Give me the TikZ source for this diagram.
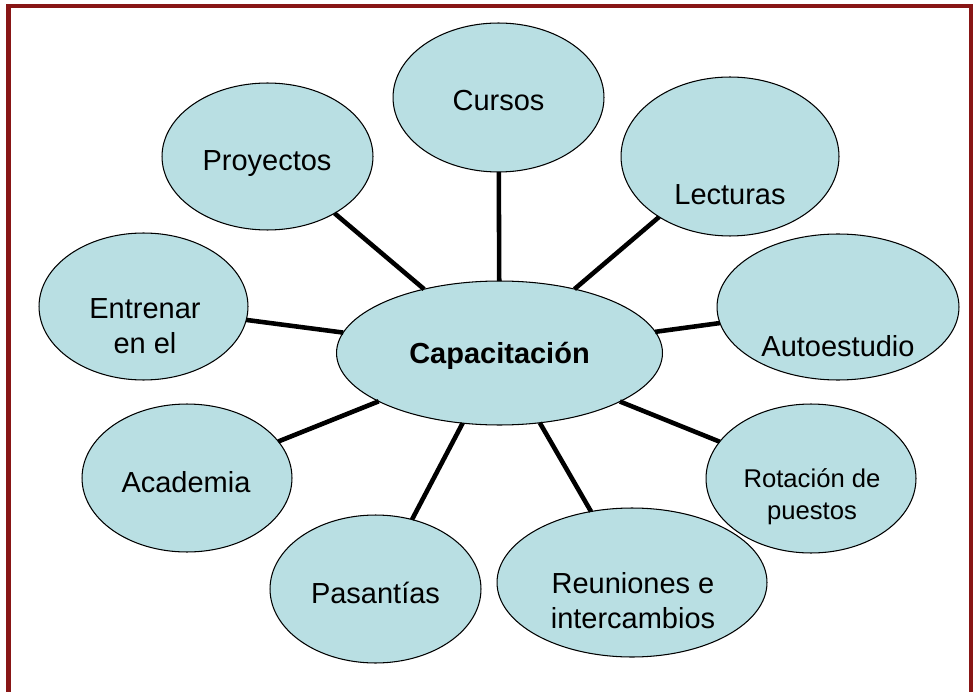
\documentclass[tikz,border=0pt]{standalone}
\usepackage{fontspec}
\setmainfont{Liberation Sans}
\usetikzlibrary{shapes.geometric}
\definecolor{burbuja}{RGB}{185,223,227}
\definecolor{marco}{RGB}{136,22,22}
\tikzset{
  burb/.style={ellipse, draw=black, fill=burbuja, line width=0.6pt, inner sep=0pt, outer sep=0pt},
  rayo/.style={line width=2.6pt},
  txt/.style={anchor=base, align=center, inner sep=0pt, font=\fontsize{16.5}{19.6}\selectfont},
  txtp/.style={txt, font=\fontsize{14.6}{18.2}\selectfont}
}
\begin{document}
\begin{tikzpicture}[x=0.02cm, y=-0.02cm]
\useasboundingbox (0,0) rectangle (976,692);
\fill[white] (0,0) rectangle (976,692);
\draw[marco, line width=2.3pt] (8.5,700)--(8.5,6)--(971,6)--(971,700);
% burbujas
\node[burb, minimum width=6.52cm, minimum height=2.88cm] (cap) at (499.5,353) {};
\node[burb, minimum width=4.22cm, minimum height=2.98cm] (cursos) at (498.5,97.5) {};
\node[burb, minimum width=4.36cm, minimum height=3.18cm] (lecturas) at (730,156.5) {};
\node[burb, minimum width=4.84cm, minimum height=2.92cm] (auto) at (838,307) {};
\node[burb, minimum width=4.20cm, minimum height=2.98cm] (rotacion) at (811,478.5) {};
\node[burb, minimum width=5.40cm, minimum height=2.98cm] (reuniones) at (632,582.5) {};
\node[burb, minimum width=4.22cm, minimum height=2.96cm] (pasantias) at (375.5,589) {};
\node[burb, minimum width=4.20cm, minimum height=2.96cm] (academia) at (187,478) {};
\node[burb, minimum width=4.18cm, minimum height=2.94cm] (entrenar) at (143.5,306.5) {};
\node[burb, minimum width=4.22cm, minimum height=2.94cm] (proyectos) at (267.5,156.5) {};
% rayos
\foreach \b in {cursos,lecturas,auto,rotacion,reuniones,pasantias,academia,entrenar,proyectos}
  \draw[rayo] (cap)--(\b);
% textos (base = ultima linea)
\node[txt, font=\fontsize{16.5}{19.6}\selectfont\bfseries] (t-cap) at (499.5,363) {Capacitación};
\node[txt] (t-cursos) at (498.5,111) {Cursos};
\node[txt] (t-lecturas) at (730,205) {Lecturas};
\node[txt] (t-auto) at (838,356) {Autoestudio};
\node[txtp] (t-rotacion) at (812,519) {Rotación de\\puestos};
\node[txt] (t-reuniones) at (633,628) {Reuniones e\\intercambios};
\node[txt] (t-pasantias) at (375.5,603) {Pasantías};
\node[txt] (t-academia) at (186,492) {Academia};
\node[txt] (t-entrenar) at (145,353) {Entrenar\\en el};
\node[txt] (t-proyectos) at (267,171) {Proyectos};
\end{tikzpicture}
\end{document}
